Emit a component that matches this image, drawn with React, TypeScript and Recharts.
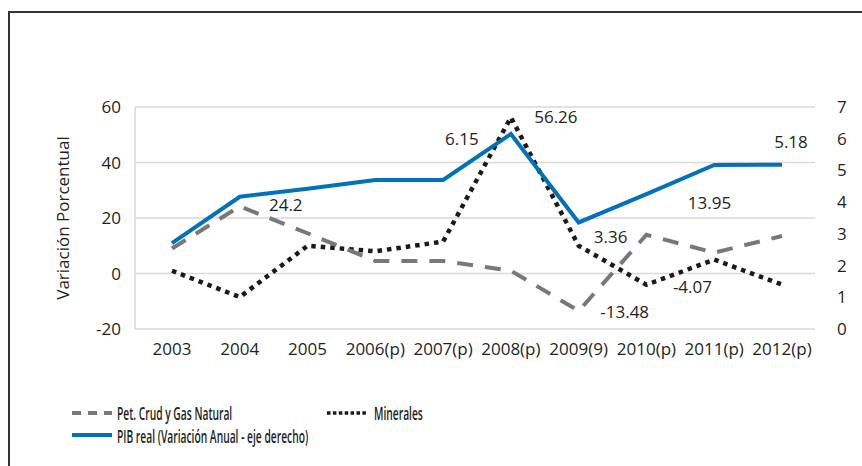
import { LineChart, Line, XAxis, YAxis, CartesianGrid } from "recharts";

const years = ["2003", "2004", "2005", "2006(p)", "2007(p)", "2008(p)", "2009(9)", "2010(p)", "2011(p)", "2012(p)"];
const petroleo = [9, 24.2, 14.5, 4.5, 4.5, 1, -13.48, 13.95, 7.5, 13.5];
const minerales = [1, -8.5, 10, 8, 11.5, 56.26, 10, -4.07, 5, -4];
const pib = [2.71, 4.17, 4.42, 4.7, 4.7, 6.15, 3.36, 4.25, 5.17, 5.18];

const leftTicks = [-20, 0, 20, 40, 60];
const rightTicks = [0, 1, 2, 3, 4, 5, 6, 7];

const data = years.map((year, i) => ({
  year,
  petroleo: petroleo[i],
  minerales: minerales[i],
  pib: pib[i],
}));

const FONT = "'Open Sans', 'Noto Sans', sans-serif";
const TEXT = "#231f20";
const BLUE = "#0072bc";
const GRAY = "#77787b";
const BLACK = "#1a1a1a";

// which points carry a value label, and where the label sits relative to the point
const petLabels: Record<number, [number, number]> = { 1: [46, -2], 6: [46, 1], 7: [63, -32] };
const minLabels: Record<number, [number, number]> = { 5: [45, -1], 7: [46, 2] };
const pibLabels: Record<number, [number, number]> = { 5: [-49, 5], 6: [32, 14], 9: [9, -23] };

function valueLabel(offsets: Record<number, [number, number]>) {
  return (props: any) => {
    const off = offsets[props.index];
    if (!off) return <g key={props.index} />;
    return (
      <text
        key={props.index}
        x={props.x + off[0]}
        y={props.y + off[1]}
        textAnchor="middle"
        dominantBaseline="central"
        fontFamily={FONT}
        fontSize={17}
        fill={TEXT}
      >
        {props.value}
      </text>
    );
  };
}

// condensed legend text: squeeze horizontally only, keep the full height
function LegendText({ x, y, children }: { x: number; y: number; children: string }) {
  return (
    <text
      transform={`translate(${x},${y}) scale(0.57,1)`}
      dominantBaseline="central"
      fontFamily={FONT}
      fontSize={18}
      fontWeight={600}
      fill={TEXT}
    >
      {children}
    </text>
  );
}

function LegendBox() {
  return (
    <svg width={862} height={50} style={{ position: "absolute", left: 0, top: 400 }}>
      <line x1={72} x2={112} y1={13} y2={13} stroke={GRAY} strokeWidth={4} strokeDasharray="9 7" />
      <LegendText x={117} y={13}>Pet. Crud y Gas Natural</LegendText>
      <line x1={327} x2={366} y1={13} y2={13} stroke={BLACK} strokeWidth={3.5} strokeDasharray="3.5 2.4" />
      <LegendText x={374} y={13}>Minerales</LegendText>
      <line x1={72} x2={112} y1={35} y2={35} stroke={BLUE} strokeWidth={4} />
      <LegendText x={117} y={36}>PIB real (Variación Anual - eje derecho)</LegendText>
    </svg>
  );
}

export default function App() {
  return (
    <div style={{ position: "absolute", left: 0, top: 0, width: 862, height: 466, background: "#fff", overflow: "hidden" }}>
      <div
        style={{
          position: "absolute",
          left: 8,
          top: 11,
          width: 860,
          height: 460,
          borderTop: "2px solid #333",
          borderLeft: "2px solid #333",
        }}
      />
      <LineChart width={862} height={466} data={data} margin={{ top: 107, right: 0, bottom: 107, left: 0 }}>
        <CartesianGrid yAxisId="left" vertical={false} stroke="#d9d9d9" strokeWidth={1.5} />
        <XAxis
          dataKey="year"
          axisLine={false}
          tickLine={false}
          height={30}
          tickMargin={8}
          interval={0}
          padding={{ left: 37, right: 33 }}
          tick={{ fill: TEXT, fontSize: 17, fontFamily: FONT }}
        />
        <YAxis
          yAxisId="left"
          width={135}
          domain={[-20, 60]}
          ticks={leftTicks}
          axisLine={{ stroke: "#d9d9d9", strokeWidth: 1.5 }}
          tickLine={false}
          tickMargin={8}
          tick={{ fill: TEXT, fontSize: 17, fontFamily: FONT }}
          label={{
            value: "Variación Porcentual",
            angle: -90,
            position: "insideLeft",
            offset: 63,
            style: { textAnchor: "middle", fill: TEXT, fontSize: 17, fontFamily: FONT },
          }}
        />
        <YAxis
          yAxisId="right"
          orientation="right"
          width={47}
          domain={[0, 7]}
          ticks={rightTicks}
          interval={0}
          axisLine={false}
          tickLine={false}
          tickMargin={16}
          tick={{ fill: TEXT, fontSize: 17, fontFamily: FONT }}
        />
        <Line
          yAxisId="left"
          dataKey="minerales"
          name="Minerales"
          stroke={BLACK}
          strokeWidth={4.5}
          strokeDasharray="4.5 5"
          dot={false}
          isAnimationActive={false}
          label={valueLabel(minLabels)}
        />
        <Line
          yAxisId="left"
          dataKey="petroleo"
          name="Pet. Crud y Gas Natural"
          stroke={GRAY}
          strokeWidth={4}
          strokeDasharray="16 12"
          dot={false}
          isAnimationActive={false}
          label={valueLabel(petLabels)}
        />
        <Line
          yAxisId="right"
          dataKey="pib"
          name="PIB real (Variación Anual - eje derecho)"
          stroke={BLUE}
          strokeWidth={4}
          dot={false}
          isAnimationActive={false}
          label={valueLabel(pibLabels)}
        />
      </LineChart>
      <LegendBox />
    </div>
  );
}
